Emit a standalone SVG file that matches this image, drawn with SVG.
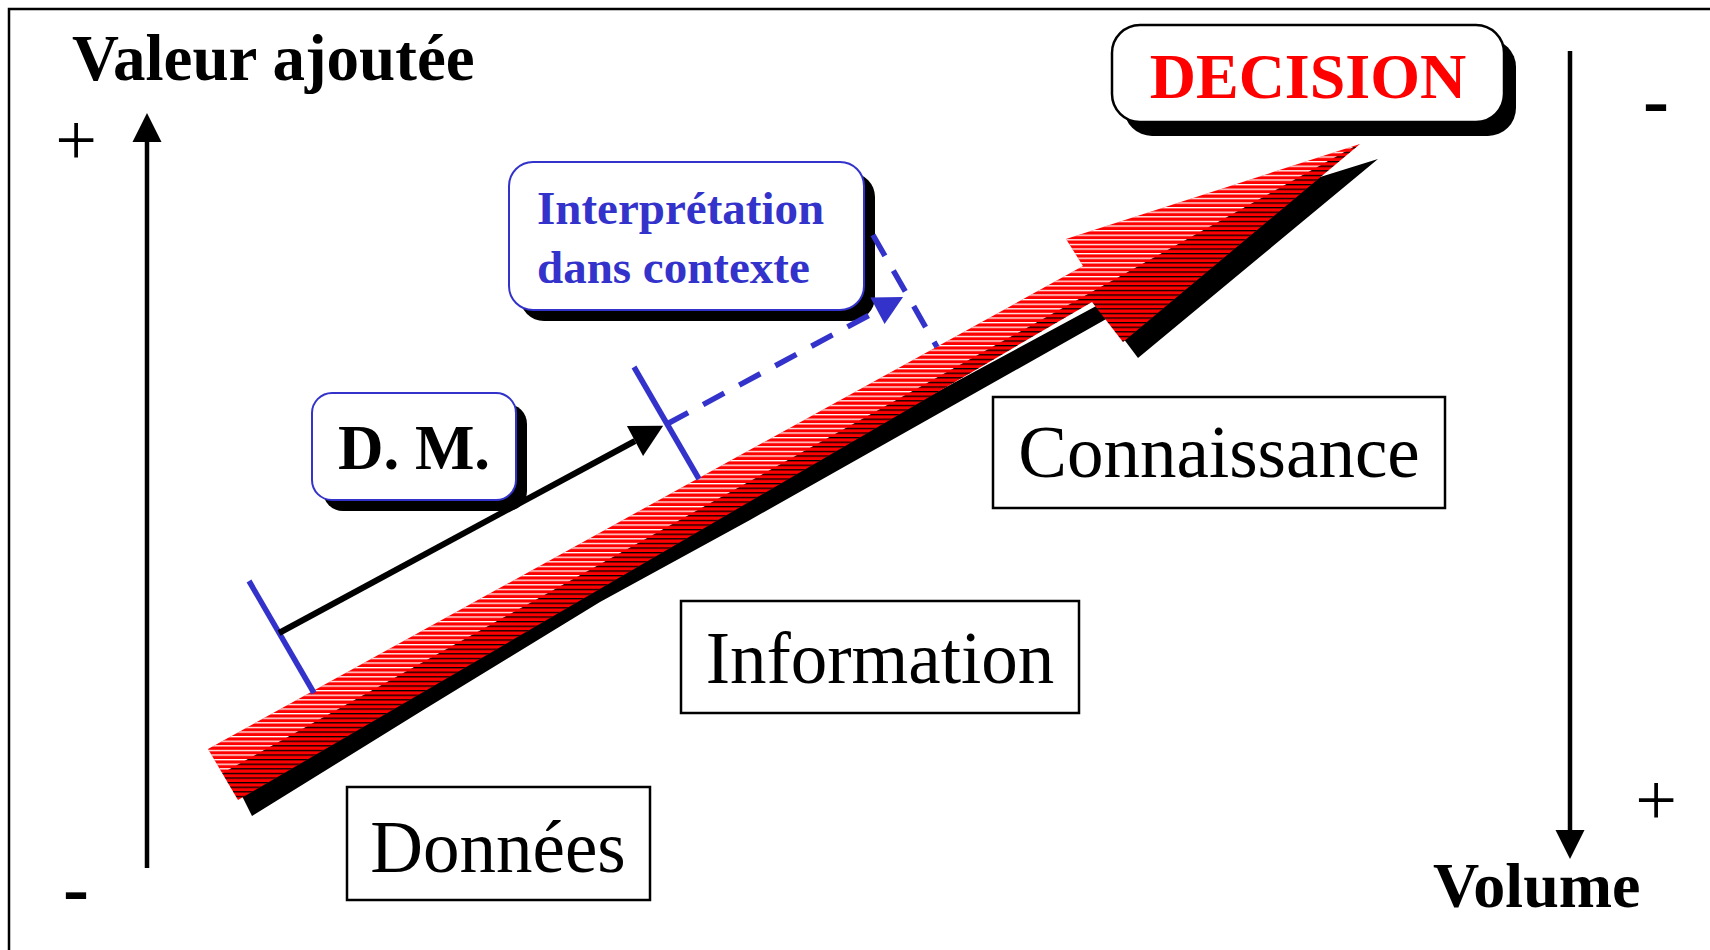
<svg xmlns="http://www.w3.org/2000/svg" width="1710" height="950" viewBox="0 0 1710 950">
<style>
  .serif { font-family: "Liberation Serif", "Times New Roman", serif; }
  .bold { font-weight: bold; }
  .lbl { font-size: 73px; fill: #000; }
  .axis { stroke: #000; stroke-width: 4.5; fill: none; }
  .tick { stroke: #3333cc; stroke-width: 5.5; fill: none; }
  .dash { stroke: #3333cc; stroke-width: 5.5; fill: none; stroke-dasharray: 24 17; }
  .dm { stroke: #000; stroke-width: 6; fill: none; }
  .box { fill: #fff; stroke: #000; stroke-width: 2.5; }
  .shadow { fill: #000; }
  .rblue { fill: #fff; stroke: #3333cc; stroke-width: 2; }
  .rblack { fill: #fff; stroke: #000; stroke-width: 2.5; }
</style>
<defs>
  <marker id="axisHead" markerUnits="userSpaceOnUse" markerWidth="29" markerHeight="29" refX="0" refY="14.5" orient="auto" overflow="visible">
    <path d="M0,0 L29,14.5 L0,29 z" fill="#000"/>
  </marker>
  <marker id="blackHead" markerUnits="userSpaceOnUse" markerWidth="32" markerHeight="34" refX="0" refY="17" orient="auto" overflow="visible">
    <path d="M0,0 L32,17 L0,34 z" fill="#000"/>
  </marker>
  <marker id="blueHead" markerUnits="userSpaceOnUse" markerWidth="29" markerHeight="30" refX="0" refY="15" orient="auto" overflow="visible">
    <path d="M0,0 L29,15 L0,30 z" fill="#3333cc"/>
  </marker>
  <pattern id="hatchW" patternUnits="userSpaceOnUse" width="20" height="4.6">
    <rect x="0" y="0" width="20" height="1.3" fill="#fff"/>
  </pattern>
  <pattern id="hatchB" patternUnits="userSpaceOnUse" width="20" height="4.6">
    <rect x="0" y="0" width="20" height="1.3" fill="#000"/>
  </pattern>
  <clipPath id="redClip">
    <polygon points="208,749 1083,266 1066,239 1360,144 1123,342 1092,302 238,800"/>
  </clipPath>
</defs>

<!-- frame -->
<rect x="9" y="9" width="1740" height="980" fill="none" stroke="#000" stroke-width="2.5"/>

<!-- big 3D arrow -->
<g id="main-arrow">
  <polygon class="shadow" points="223,765 242,796 252,816 420,712 600,602 750,520 1108,318 1138,358 1378,159 1317,178 1200,250 700,520"/>
  <polygon points="208,749 1083,266 1066,239 1360,144 1123,342 1092,302 238,800" fill="#ff0000"/>
  <g clip-path="url(#redClip)">
    <polygon points="100,841 1500,66 1500,0 100,0" fill="url(#hatchW)"/>
    <polygon points="100,841 1500,66 1500,950 100,950" fill="url(#hatchB)"/>
  </g>
</g>

<!-- axes -->
<g id="axis-value">
  <line class="axis" x1="147" y1="868" x2="147" y2="142" marker-end="url(#axisHead)"/>
  <text class="serif bold" x="72" y="80" font-size="65">Valeur ajoutée</text>
  <text class="serif" x="76" y="165" font-size="74" text-anchor="middle">+</text>
  <text class="serif bold" x="76" y="914" font-size="78" text-anchor="middle">-</text>
</g>
<g id="axis-volume">
  <line class="axis" x1="1570" y1="51" x2="1570" y2="830" marker-end="url(#axisHead)"/>
  <text class="serif bold" x="1433" y="907" font-size="64">Volume</text>
  <text class="serif" x="1656" y="825" font-size="74" text-anchor="middle">+</text>
  <text class="serif bold" x="1656" y="126" font-size="78" text-anchor="middle">-</text>
</g>

<!-- nodes -->
<g id="node-decision">
  <rect class="shadow" x="1124" y="39" width="392" height="97" rx="28"/>
  <rect class="rblack" x="1112" y="25" width="392" height="97" rx="28"/>
  <text class="serif bold" x="1308" y="98" font-size="64" fill="#ff0000" text-anchor="middle">DECISION</text>
</g>
<g id="node-interpretation">
  <rect class="shadow" x="520" y="173" width="355" height="148" rx="24"/>
  <rect class="rblue" x="509" y="162" width="355" height="148" rx="24"/>
  <text class="serif bold" x="537" y="224" font-size="47" fill="#3333cc">Interprétation</text>
  <text class="serif bold" x="537" y="283" font-size="47" fill="#3333cc">dans contexte</text>
</g>
<g id="node-dm">
  <rect class="shadow" x="323" y="404" width="204" height="107" rx="20"/>
  <rect class="rblue" x="312" y="393" width="204" height="107" rx="20"/>
  <text class="serif bold" x="414" y="469" font-size="63" text-anchor="middle">D. M.</text>
</g>
<g id="node-connaissance">
  <rect class="box" x="993" y="397" width="452" height="111"/>
  <text class="serif lbl" x="1219" y="477" text-anchor="middle">Connaissance</text>
</g>
<g id="node-information">
  <rect class="box" x="681" y="601" width="398" height="112"/>
  <text class="serif lbl" x="880" y="683" text-anchor="middle">Information</text>
</g>
<g id="node-donnees">
  <rect class="box" x="347" y="787" width="303" height="113"/>
  <text class="serif lbl" x="498" y="872" text-anchor="middle">Données</text>
</g>

<!-- connectors -->
<g id="connectors">
  <line class="tick" x1="249" y1="581" x2="314" y2="693"/>
  <line class="tick" x1="634" y1="367" x2="699" y2="479"/>
  <line class="dm" x1="279" y1="633" x2="635" y2="441" marker-end="url(#blackHead)"/>
  <line class="dash" x1="667" y1="424" x2="877.5" y2="310.7" marker-end="url(#blueHead)"/>
  <line class="dash" x1="873" y1="235" x2="937" y2="347"/>
</g>
</svg>
